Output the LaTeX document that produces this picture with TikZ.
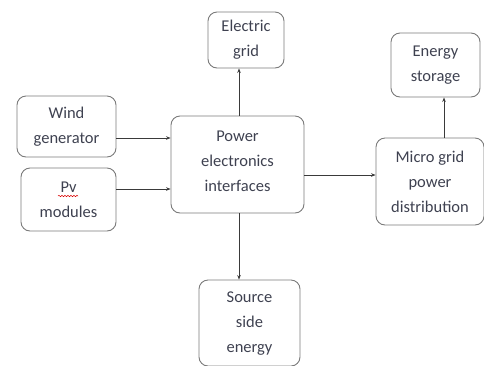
\documentclass[tikz,border=0pt]{standalone}
\usepackage{fontspec}
\setmainfont{Carlito}
\usetikzlibrary{arrows.meta,decorations.pathmorphing}
\definecolor{boxline}{HTML}{7A7A7A}
\definecolor{txt}{HTML}{3E4150}
\definecolor{conn}{HTML}{3A3A3A}
\begin{document}
\begin{tikzpicture}[x=1pt,y=-1pt,
  blk/.style={draw=boxline,line width=0.9pt,rounded corners=9pt,align=center,
    text=txt,font=\fontsize{16.5}{25}\selectfont,inner sep=0pt},
  conn/.style={draw=conn,line width=0.8pt,-{Stealth[length=4.5pt,width=3.5pt]}}]
\useasboundingbox (0,0) rectangle (484,365);
\node[blk,minimum width=76pt,minimum height=56pt] (grid) at (246,40) {Electric\\grid};
\node[blk,minimum width=89pt,minimum height=64pt] (stor) at (435.5,65) {Energy\\storage};
\node[blk,minimum width=99pt,minimum height=61pt] (wind) at (66.5,126.5) {Wind\\generator};
\node[blk,minimum width=95pt,minimum height=63pt] (pv) at (68.5,199.5) {Pv\\modules};
\node[blk,minimum width=133pt,minimum height=97pt] (pe) at (237.5,164.5) {};
\node[text=txt,font=\fontsize{16.5}{25}\selectfont,align=center,inner sep=0pt] (pet) at (237.5,161) {Power\\electronics\\interfaces};
\node[blk,minimum width=108pt,minimum height=87pt] (mg) at (430,181.5) {Micro grid\\power\\distribution};
\node[blk,minimum width=101pt,minimum height=86pt] (src) at (249.5,323) {};
\node[text=txt,font=\fontsize{16.5}{25}\selectfont,align=center,inner sep=0pt] (srct) at (249.5,324) {Source\\side\\energy};
\coordinate (sq1) at (58,196);
\coordinate (sq2) at (78,196);
\draw[red!85!black,line width=0.5pt,decorate,decoration={snake,amplitude=0.7pt,segment length=3pt}] (sq1) -- (sq2);
\draw[conn] (wind.east |- 0,138) -- (pe.west |- 0,138);
\draw[conn] (pv.east |- 0,189) -- (pe.west |- 0,189);
\draw[conn] (pe.north -| 239,0) -- (grid.south -| 239,0);
\draw[conn] (pe.south -| 239,0) -- (src.north -| 239,0);
\draw[conn] (pe.east |- 0,175) -- (mg.west |- 0,175);
\draw[conn] (mg.north -| 444,0) -- (stor.south -| 444,0);
\end{tikzpicture}
\end{document}
